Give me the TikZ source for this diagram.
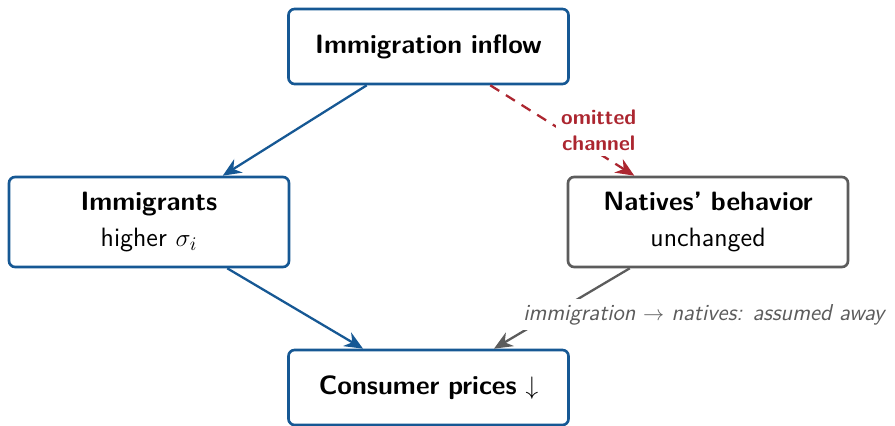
\documentclass[tikz,border=0pt]{standalone}
\usepackage{fontspec}
\usepackage{amsmath}
\usepackage{tikz}
\usetikzlibrary{positioning,arrows.meta}

\definecolor{flowblue}{RGB}{22,88,148}
\definecolor{omitred}{RGB}{172,38,48}
\definecolor{mutedgray}{RGB}{92,92,92}

\begin{document}
\begin{tikzpicture}[
  every node/.style={font=\sffamily\fontsize{15.1}{21}\selectfont},
  boxes/.style={rectangle,draw=#1,line width=1.5pt,rounded corners=3.5pt,fill=white,text width=5.3cm,align=center,minimum width=5.6cm,minimum height=1.5cm,on grid},
  boxes/.default=flowblue,
  flow/.style={draw=flowblue,line width=1.3pt,-{Stealth[length=10.5pt,width=9pt]}},
  omitted/.style={draw=omitred,line width=1.3pt,dash pattern=on 6pt off 4.5pt,-{Stealth[length=10.5pt,width=9pt]}},
  assumed/.style={draw=mutedgray,line width=1.3pt,-{Stealth[length=10.5pt,width=9pt]}},
  notes/.style={fill=white,inner sep=3pt,align=center},
]
\useasboundingbox (0,0) rectangle (17.9,8.52);

\node (inflow) [boxes] at (8.57,7.59) {\textbf{Immigration inflow}};
\node (immigrants) [boxes,minimum height=1.8cm,below left=3.51cm and 5.59cm of inflow] {\textbf{Immigrants}\\higher $\sigma_i$};
\node (natives) [boxes=mutedgray,minimum height=1.8cm,below right=3.51cm and 5.59cm of inflow] {\textbf{Natives' behavior}\\unchanged};
\node (prices) [boxes,below=6.82cm of inflow] {\textbf{Consumer prices} $\downarrow$};

\draw[flow] (inflow) -- (immigrants);
\draw[flow] (immigrants) -- (prices);
\draw[omitted] (inflow) -- node[notes,midway,anchor=west,xshift=-0.15cm,text=omitred,font=\sffamily\bfseries\fontsize{12}{14.5}\selectfont] {omitted\\channel} (natives);
\draw[assumed] (natives) -- node[notes,midway,anchor=west,xshift=-0.9cm,yshift=-0.12cm,text=mutedgray,font=\sffamily\itshape\fontsize{13.1}{15}\selectfont] {immigration $\rightarrow$ natives: assumed away} (prices);
\end{tikzpicture}
\end{document}
